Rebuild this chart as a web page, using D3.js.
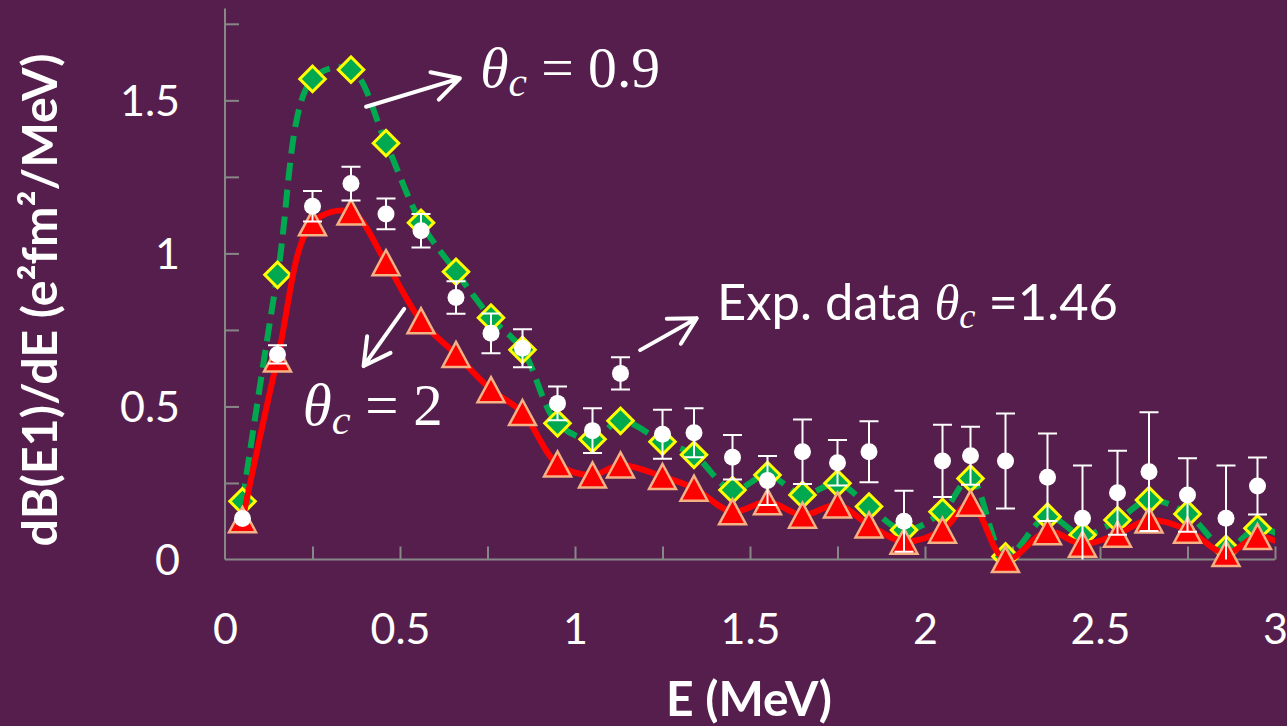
<!DOCTYPE html>
<html><head><meta charset="utf-8">
<script src="https://cdn.jsdelivr.net/npm/d3@7"></script>
<style>
html,body{margin:0;padding:0;background:#561e4d;overflow:hidden;}
svg{display:block;}
</style></head><body>
<svg id="chart" width="1287" height="726"></svg>
<script>
// ---- data ----
const energies = [0.05,0.15,0.25,0.36,0.46,0.56,0.66,0.76,0.85,0.95,1.05,1.13,1.25,1.34,1.45,1.55,1.65,1.75,1.84,1.94,2.05,2.13,2.23,2.35,2.45,2.55,2.64,2.75,2.86,2.95];
const theta09 = [0.19,0.93,1.57,1.60,1.36,1.10,0.94,0.79,0.685,0.445,0.393,0.453,0.385,0.342,0.227,0.276,0.211,0.249,0.173,0.096,0.156,0.265,0.01,0.14,0.08,0.129,0.194,0.149,0.035,0.102];
const theta2 = [0.13,0.655,1.10,1.135,0.97,0.78,0.67,0.555,0.48,0.312,0.276,0.309,0.271,0.233,0.156,0.189,0.145,0.178,0.113,0.06,0.096,0.184,0.0,0.091,0.05,0.083,0.129,0.096,0.02,0.075];
const expData = [0.134,0.670,1.154,1.228,1.129,1.074,0.856,0.739,0.690,0.510,0.421,0.608,0.409,0.414,0.334,0.258,0.352,0.316,0.352,0.125,0.322,0.339,0.322,0.269,0.135,0.218,0.287,0.211,0.135,0.240];
const expErr = [0.0,0.03,0.05,0.055,0.05,0.055,0.053,0.065,0.062,0.055,0.073,0.053,0.08,0.08,0.073,0.08,0.105,0.074,0.10,0.10,0.118,0.095,0.155,0.143,0.172,0.137,0.194,0.12,0.172,0.093];
// curves continue past the right edge of the axis (clipped)
const edgeEnergy = 3.05;
const edgeTheta09 = 0.06;
const edgeTheta2 = 0.035;
const xTickLabels = [0,0.5,1,1.5,2,2.5,3];
const yTickLabels = [0,0.5,1,1.5];
const xMinorTicks = [0.25,0.5,0.75,1,1.25,1.5,1.75,2,2.25,2.5,2.75,3];
const yMinorTicks = [0.25,0.5,0.75,1,1.25,1.5,1.75];

// ---- layout ----
const W = 1287, H = 726;
const svg = d3.select("#chart");
const x = d3.scaleLinear().domain([0,3]).range([225,1275]);
const y = d3.scaleLinear().domain([0,1.8]).range([559.5,8.5]);
const BG = "#561e4d", AX = "#878787";
const SANS = "Lato, 'Open Sans', sans-serif";
const SERIF = "'Liberation Serif', 'DejaVu Serif', serif";

svg.append("rect").attr("width",W).attr("height",H).attr("fill",BG);

const defs = svg.append("defs");
defs.append("clipPath").attr("id","plotclip")
  .append("rect").attr("x",x(0)).attr("y",0).attr("width",x(3)-x(0)).attr("height",H);
defs.append("clipPath").attr("id","areaclip")
  .append("rect").attr("x",x(0)).attr("y",y(1.8)).attr("width",x(3)-x(0)).attr("height",y(0)-y(1.8));

// axes: ticks
const gx = svg.append("g").attr("transform",`translate(0,${y(0)})`)
  .call(d3.axisBottom(x).tickValues(xMinorTicks).tickSize(-13).tickSizeOuter(0).tickFormat(""));
const gy = svg.append("g").attr("transform",`translate(${x(0)},0)`)
  .call(d3.axisLeft(y).tickValues(yMinorTicks).tickSize(-14).tickSizeOuter(0).tickFormat(""));
[gx,gy].forEach(g=>{
  g.select(".domain").attr("stroke",AX).attr("stroke-width",2);
  g.selectAll(".tick line").attr("stroke",AX).attr("stroke-width",2);
});
gx.select(".domain").attr("d",`M${x(0)},0H${x(3)}`);
gy.select(".domain").attr("d",`M0,${y(0)}V${y(1.8)}`);

// axes: labels
const fmt = d3.format("~g");
const lx = svg.append("g").attr("transform",`translate(0,${y(0)})`)
  .call(d3.axisBottom(x).tickValues(xTickLabels).tickSize(0).tickFormat(fmt));
lx.select(".domain").remove();
lx.selectAll("text").attr("y",84.5).attr("dy",null)
  .attr("fill","#fff").style("font-family",SANS).style("font-size","43px");
const ly = svg.append("g").attr("transform",`translate(${x(0)},0)`)
  .call(d3.axisLeft(y).tickValues(yTickLabels).tickSize(0).tickPadding(45).tickFormat(fmt));
ly.select(".domain").remove();
ly.selectAll("text").attr("dy","0.36em")
  .attr("fill","#fff").style("font-family",SANS).style("font-size","43px");

function fit(sel, w){
  const cur = sel.node().getComputedTextLength();
  const fs = parseFloat(sel.style("font-size"));
  sel.style("font-size", (fs*w/cur)+"px");
}

// axis titles
const yt = svg.append("text").attr("transform","translate(57,300) rotate(-90)")
  .attr("text-anchor","middle").attr("fill","#fff")
  .style("font-family",SANS).style("font-weight","bold").style("font-size","46px")
  .text("dB(E1)/dE (e²fm²/MeV)");
fit(yt, 493);
const xt = svg.append("text").attr("x",749).attr("y",716)
  .attr("text-anchor","middle").attr("fill","#fff")
  .style("font-family",SANS).style("font-weight","bold").style("font-size","46px")
  .text("E (MeV)");
fit(xt, 166);

// ---- series ----
const ptsG = energies.map((e,i)=>[e,theta09[i]]).concat([[edgeEnergy,edgeTheta09]]);
const ptsR = energies.map((e,i)=>[e,theta2[i]]).concat([[edgeEnergy,edgeTheta2]]);
const line = d3.line().x(d=>x(d[0])).y(d=>y(d[1])).curve(d3.curveCatmullRom.alpha(0.5));

const plot = svg.append("g");
const GREEN = "#00a84f";

plot.append("path").attr("clip-path","url(#plotclip)").attr("d",line(ptsG))
  .attr("fill","none").attr("stroke",GREEN).attr("stroke-width",6)
  .attr("stroke-dasharray","18,9");
plot.append("g").selectAll("path").data(energies.map((e,i)=>[e,theta09[i]])).join("path")
  .attr("d",d3.symbol(d3.symbolSquare, 18*18))
  .attr("transform",d=>`translate(${x(d[0])},${y(d[1])}) rotate(45)`)
  .attr("fill",GREEN).attr("stroke","#ffff00").attr("stroke-width",3);

plot.append("path").attr("clip-path","url(#plotclip)").attr("d",line(ptsR))
  .attr("fill","none").attr("stroke","#ff0000").attr("stroke-width",6);
const tri = {draw(ctx,size){const s=Math.sqrt(size);const h=s*0.93;
  ctx.moveTo(0,-h/2);ctx.lineTo(s/2,h/2);ctx.lineTo(-s/2,h/2);ctx.closePath();}};
plot.append("g").selectAll("path").data(energies.map((e,i)=>[e,theta2[i]])).join("path")
  .attr("d",d3.symbol(tri, 27*27))
  .attr("transform",d=>`translate(${x(d[0])},${y(d[1])})`)
  .attr("fill","#ff0000").attr("stroke","#f4b183").attr("stroke-width",2.5)
  .attr("stroke-linejoin","miter");

// experimental data
const expPts = energies.map((e,i)=>({e, v:expData[i], err:expErr[i]}));
const eb = plot.append("g").attr("clip-path","url(#areaclip)")
  .attr("stroke","#fff").attr("stroke-width",2);
eb.selectAll("path").data(expPts.filter(d=>d.err>0)).join("path")
  .attr("d",d=>{const cx=x(d.e), t=y(d.v+d.err), b=y(d.v-d.err);
    return `M${cx},${t}V${b}M${cx-9.5},${t}H${cx+9.5}M${cx-9.5},${b}H${cx+9.5}`;})
  .attr("fill","none");
plot.append("g").selectAll("circle").data(expPts).join("circle")
  .attr("cx",d=>x(d.e)).attr("cy",d=>y(d.v)).attr("r",8.5).attr("fill","#fff");

// ---- annotations ----
const arrows = [
  {from:[0.403,1.479], to:[0.671,1.572]},
  {from:[0.512,0.819], to:[0.396,0.632]},
  {from:[1.186,0.684], to:[1.348,0.788]}
];
const ag = svg.append("g").attr("stroke","#fff").attr("stroke-width",4)
  .attr("fill","none").attr("stroke-linecap","round").attr("stroke-linejoin","round");
arrows.forEach(a=>{
  const x1=x(a.from[0]), y1=y(a.from[1]), x2=x(a.to[0]), y2=y(a.to[1]);
  const ang = Math.atan2(y1-y2, x1-x2), L=30, sp=Math.PI/6.3;
  const p = d3.path();
  p.moveTo(x1,y1); p.lineTo(x2,y2);
  p.moveTo(x2+L*Math.cos(ang+sp), y2+L*Math.sin(ang+sp)); p.lineTo(x2,y2);
  p.lineTo(x2+L*Math.cos(ang-sp), y2+L*Math.sin(ang-sp));
  ag.append("path").attr("d",p.toString());
});

// θc = 0.9
const a1 = svg.append("text").attr("x",x(0.729)).attr("y",y(1.544)).attr("fill","#fff")
  .style("font-family",SERIF).style("font-size","48px");
a1.append("tspan").style("font-style","italic").text("θ");
a1.append("tspan").style("font-style","italic").style("font-size","0.72em").attr("dy","0.22em").text("c");
a1.append("tspan").attr("dy","-0.16em").text(" = 0.9");
fit(a1, 180);
// θc = 2
const a2 = svg.append("text").attr("x",x(0.222)).attr("y",y(0.439)).attr("fill","#fff")
  .style("font-family",SERIF).style("font-size","48px");
a2.append("tspan").style("font-style","italic").text("θ");
a2.append("tspan").style("font-style","italic").style("font-size","0.72em").attr("dy","0.22em").text("c");
a2.append("tspan").attr("dy","-0.16em").text(" = 2");
fit(a2, 140);
// Exp. data θc =1.46
const a3 = svg.append("text").attr("x",x(1.406)).attr("y",y(0.782)).attr("fill","#fff")
  .style("font-family",SANS).style("font-size","42px");
a3.append("tspan").text("Exp. data ");
a3.append("tspan").style("font-family",SERIF).style("font-style","italic").text("θ");
a3.append("tspan").style("font-family",SERIF).style("font-style","italic").style("font-size","0.72em").attr("dy","0.22em").text("c");
a3.append("tspan").attr("dy","-0.16em").text(" =1.46");
fit(a3, 401);
</script>
</body></html>
